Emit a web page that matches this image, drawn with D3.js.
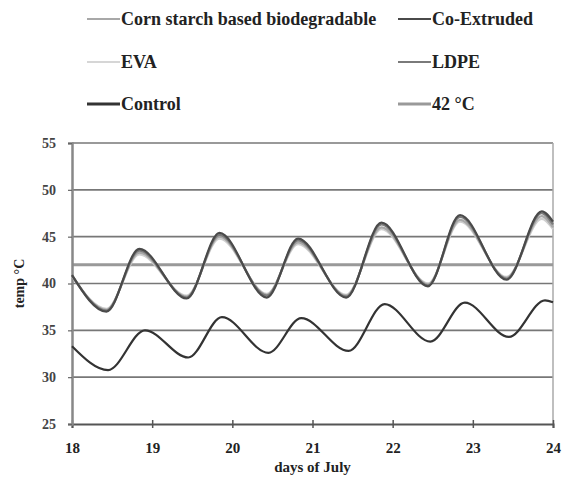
<!DOCTYPE html>
<html><head><meta charset="utf-8">
<script src="https://cdn.jsdelivr.net/npm/d3@7"></script>
<style>body{margin:0;background:#fff}svg{display:block}</style>
</head><body><svg id="c" width="569" height="487"></svg>
<script>
// ---- data ----
const upperDays = [18, 18.43, 18.84, 19.43, 19.84, 20.43, 20.82, 21.42, 21.86, 22.44, 22.84, 23.42, 23.86, 24];
const cornStarch = [40.8, 37.2, 43.3, 38.6, 45.0, 38.8, 44.4, 38.7, 46.0, 39.9, 46.8, 40.6, 47.2, 46.0];
const coExtruded = [40.9, 37.0, 43.7, 38.4, 45.4, 38.5, 44.8, 38.5, 46.5, 39.7, 47.3, 40.4, 47.7, 46.6];
const eva        = [40.8, 37.3, 43.1, 38.7, 44.8, 38.9, 44.2, 38.8, 45.8, 40.0, 46.6, 40.7, 46.9, 45.8];
const ldpe       = [40.9, 37.1, 43.5, 38.5, 45.2, 38.7, 44.6, 38.6, 46.3, 39.8, 47.1, 40.5, 47.5, 46.3];
const controlDays = [18, 18.45, 18.91, 19.45, 19.87, 20.45, 20.86, 21.45, 21.9, 22.47, 22.9, 23.45, 23.9, 24];
const control    = [33.3, 30.75, 35.0, 32.1, 36.4, 32.6, 36.3, 32.8, 37.8, 33.8, 37.95, 34.3, 38.2, 38.0];
const threshold = 42;
const xTicks = [18, 19, 20, 21, 22, 23, 24];
const yTicks = [25, 30, 35, 40, 45, 50, 55];
const legendNames = ["Corn starch based biodegradable", "Co-Extruded", "EVA", "LDPE", "Control", "42 °C"];

// ---- drawing ----
const svg = d3.select("#c");
const x = d3.scaleLinear().domain([18, 24]).range([72, 553]);
const y = d3.scaleLinear().domain([25, 55]).range([424, 143]);
const serif = "'Liberation Serif','Times New Roman',serif";

// gridlines
svg.append("g").selectAll("line").data(yTicks.filter(v => v > 25)).join("line")
  .attr("x1", x(18)).attr("x2", x(24)).attr("y1", d => y(d)).attr("y2", d => y(d))
  .attr("stroke", "#777").attr("stroke-width", 1.6);

// right border
svg.append("line").attr("x1", x(24)).attr("x2", x(24)).attr("y1", y(55)).attr("y2", y(25))
  .attr("stroke", "#aaa").attr("stroke-width", 1.5);

// 42 line
svg.append("line").attr("x1", x(18)).attr("x2", x(24)).attr("y1", y(threshold)).attr("y2", y(threshold))
  .attr("stroke", "#999").attr("stroke-width", 3);

// axes
const xAxis = d3.axisBottom(x).tickValues(xTicks).tickSize(4).tickPadding(14).tickFormat(d3.format("d"));
const gx = svg.append("g").attr("transform", `translate(0,${y(25)})`).call(xAxis);
gx.select(".domain").attr("stroke", "#555").attr("stroke-width", 2);
gx.selectAll(".tick line").attr("stroke", "#555").attr("stroke-width", 1.5).attr("y1", -4);
gx.selectAll("text").attr("font-family", serif).attr("font-weight", "bold").attr("font-size", 15).attr("fill", "#222");

const yAxis = d3.axisLeft(y).tickValues(yTicks).tickSize(4).tickPadding(12).tickFormat(d3.format("d"));
const gy = svg.append("g").attr("transform", `translate(${x(18)},0)`).call(yAxis);
gy.select(".domain").attr("stroke", "#888").attr("stroke-width", 2.5);
gy.selectAll(".tick line").attr("stroke", "#666").attr("stroke-width", 1.2);
gy.selectAll("text").attr("font-family", serif).attr("font-weight", "bold").attr("font-size", 14).attr("fill", "#444");

// axis titles
svg.append("text").attr("x", (x(18) + x(24)) / 2).attr("y", 472).attr("text-anchor", "middle")
  .attr("font-family", serif).attr("font-weight", "bold").attr("font-size", 15).attr("fill", "#222")
  .text("days of July");
svg.append("text").attr("transform", `translate(24,${(y(25) + y(55)) / 2}) rotate(-90)`).attr("text-anchor", "middle")
  .attr("font-family", serif).attr("font-weight", "bold").attr("font-size", 14).attr("fill", "#222")
  .text("temp °C");

// series
const line = d3.line().x(d => x(d[0])).y(d => y(d[1])).curve(d3.curveMonotoneX);
const series = [
  {name: "EVA", days: upperDays, vals: eva, color: "#cfcfcf", w: 2.2},
  {name: "Corn", days: upperDays, vals: cornStarch, color: "#a8a8a8", w: 2.2},
  {name: "LDPE", days: upperDays, vals: ldpe, color: "#7a7a7a", w: 2.2},
  {name: "Co", days: upperDays, vals: coExtruded, color: "#4a4a4a", w: 2.2},
  {name: "Control", days: controlDays, vals: control, color: "#333", w: 2.2}
];
series.forEach(s => {
  svg.append("path").datum(s.days.map((d, i) => [d, s.vals[i]]))
    .attr("d", line).attr("fill", "none").attr("stroke", s.color).attr("stroke-width", s.w)
    .attr("stroke-linejoin", "round");
});

// legend
const legend = [
  {name: legendNames[0], color: "#a8a8a8", w: 2, lx: 87, ly: 19},
  {name: legendNames[1], color: "#4a4a4a", w: 2, lx: 398, ly: 19},
  {name: legendNames[2], color: "#d6d6d6", w: 2, lx: 87, ly: 62},
  {name: legendNames[3], color: "#7a7a7a", w: 2, lx: 398, ly: 62},
  {name: legendNames[4], color: "#333", w: 3, lx: 87, ly: 104},
  {name: legendNames[5], color: "#999", w: 3, lx: 398, ly: 104}
];
const lg = svg.append("g").selectAll("g").data(legend).join("g");
lg.append("line").attr("x1", d => d.lx).attr("x2", d => d.lx + 33).attr("y1", d => d.ly).attr("y2", d => d.ly)
  .attr("stroke", d => d.color).attr("stroke-width", d => d.w);
lg.append("text").attr("x", d => d.lx + 34).attr("y", d => d.ly).attr("dy", "0.35em")
  .attr("font-family", serif).attr("font-weight", "bold").attr("font-size", 18).attr("fill", "#222")
  .text(d => d.name);
</script></body></html>
